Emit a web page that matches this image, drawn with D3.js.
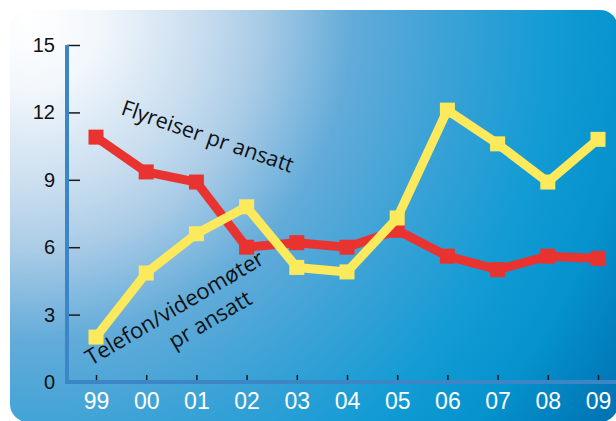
<!DOCTYPE html>
<html>
<head>
<meta charset="utf-8">
<script src="https://cdn.jsdelivr.net/npm/d3@7"></script>
<style>
  body { margin: 0; background: #ffffff; }
  svg { display: block; font-family: "Open Sans", "Noto Sans", sans-serif; }
</style>
</head>
<body>
<div id="chart"></div>
<script>
// data
var years = ['99', '00', '01', '02', '03', '04', '05', '06', '07', '08', '09'];
var flyreiser = [10.9, 9.35, 8.9, 6.0, 6.2, 6.0, 6.75, 5.6, 5.0, 5.6, 5.5];
var telefon = [2.0, 4.85, 6.6, 7.8, 5.1, 4.9, 7.3, 12.1, 10.6, 8.9, 10.8];
var yTicks = [0, 3, 6, 9, 12, 15];

var W = 616, H = 421;
var svg = d3.select('#chart').append('svg').attr('width', W).attr('height', H);

// ------- background panel with the white glow top-left
var defs = svg.append('defs');
var grad = defs.append('radialGradient').attr('id', 'bg')
    .attr('gradientUnits', 'userSpaceOnUse')
    .attr('cx', 30).attr('cy', 20).attr('r', 700);
[[0, '#ffffff'], [0.1, '#f2f7fc'], [0.25, '#c6dcee'], [0.33, '#a9cbe6'],
 [0.46, '#62abd9'], [0.6, '#3aa2d6'], [0.75, '#129bd4'], [0.86, '#0592cd'], [1, '#0074b4']]
  .forEach(function (s) { grad.append('stop').attr('offset', s[0]).attr('stop-color', s[1]); });

svg.append('rect').attr('x', 10).attr('y', 10).attr('width', 608).attr('height', 412)
   .attr('rx', 18).attr('fill', 'url(#bg)');

// ------- scales
var x = d3.scalePoint().domain(years).range([96, 598]);
var y = d3.scaleLinear().domain([0, 15]).range([382, 45]);
var axisX = 67;

// ------- y axis
var yAxis = svg.append('g').attr('transform', `translate(${axisX},0)`)
    .call(d3.axisLeft(y).tickValues(yTicks).tickSizeInner(-13).tickSizeOuter(0).tickPadding(12));
yAxis.select('.domain').remove();
yAxis.selectAll('.tick line').attr('stroke', '#1a1a1a').attr('stroke-width', 1.5);
yAxis.selectAll('.tick text').attr('fill', '#111').style('font-size', '20px');

// ------- x axis
var xAxis = svg.append('g').attr('transform', `translate(0,${y(0)})`)
    .call(d3.axisBottom(x).tickSizeInner(-7).tickSizeOuter(0).tickPadding(11));
xAxis.select('.domain').remove();
xAxis.selectAll('.tick line').attr('stroke', '#1a1a1a').attr('stroke-width', 1.5);
xAxis.selectAll('.tick text').attr('fill', '#ffffff').style('font-size', '23px');

// axis lines
svg.append('line').attr('x1', axisX).attr('x2', W).attr('y1', y(0)).attr('y2', y(0))
   .attr('stroke', '#3d86c6').attr('stroke-width', 4);
svg.append('line').attr('x1', axisX).attr('x2', axisX).attr('y1', y(15)).attr('y2', y(0) + 2)
   .attr('stroke', '#3d86c6').attr('stroke-width', 4);

// ------- series
var line = d3.line().x(function (d, i) { return x(years[i]); }).y(function (d) { return y(d); });

function drawSeries(vals, color) {
    svg.append('path').datum(vals).attr('d', line)
       .attr('fill', 'none').attr('stroke', color).attr('stroke-width', 9)
       .attr('stroke-linejoin', 'round');
    svg.append('g').selectAll('rect').data(vals).enter().append('rect')
       .attr('x', function (d, i) { return x(years[i]) - 7.5; })
       .attr('y', function (d) { return y(d) - 7.5; })
       .attr('width', 15).attr('height', 15).attr('fill', color);
}
drawSeries(flyreiser, '#e93330');
drawSeries(telefon, '#fce95c');

// ------- labels on the lines
svg.append('text').attr('transform', 'translate(120,114) rotate(19)')
   .attr('fill', '#111').style('font-size', '21.5px').text('Flyreiser pr ansatt');

var lab = svg.append('g').attr('transform', 'translate(91,366) rotate(-30.5)');
lab.append('text').attr('fill', '#111').style('font-size', '22px').text('Telefon/videomøter');
lab.append('text').attr('x', 80).attr('y', 28).attr('fill', '#111').style('font-size', '22px').text('pr ansatt');
</script>
</body>
</html>
